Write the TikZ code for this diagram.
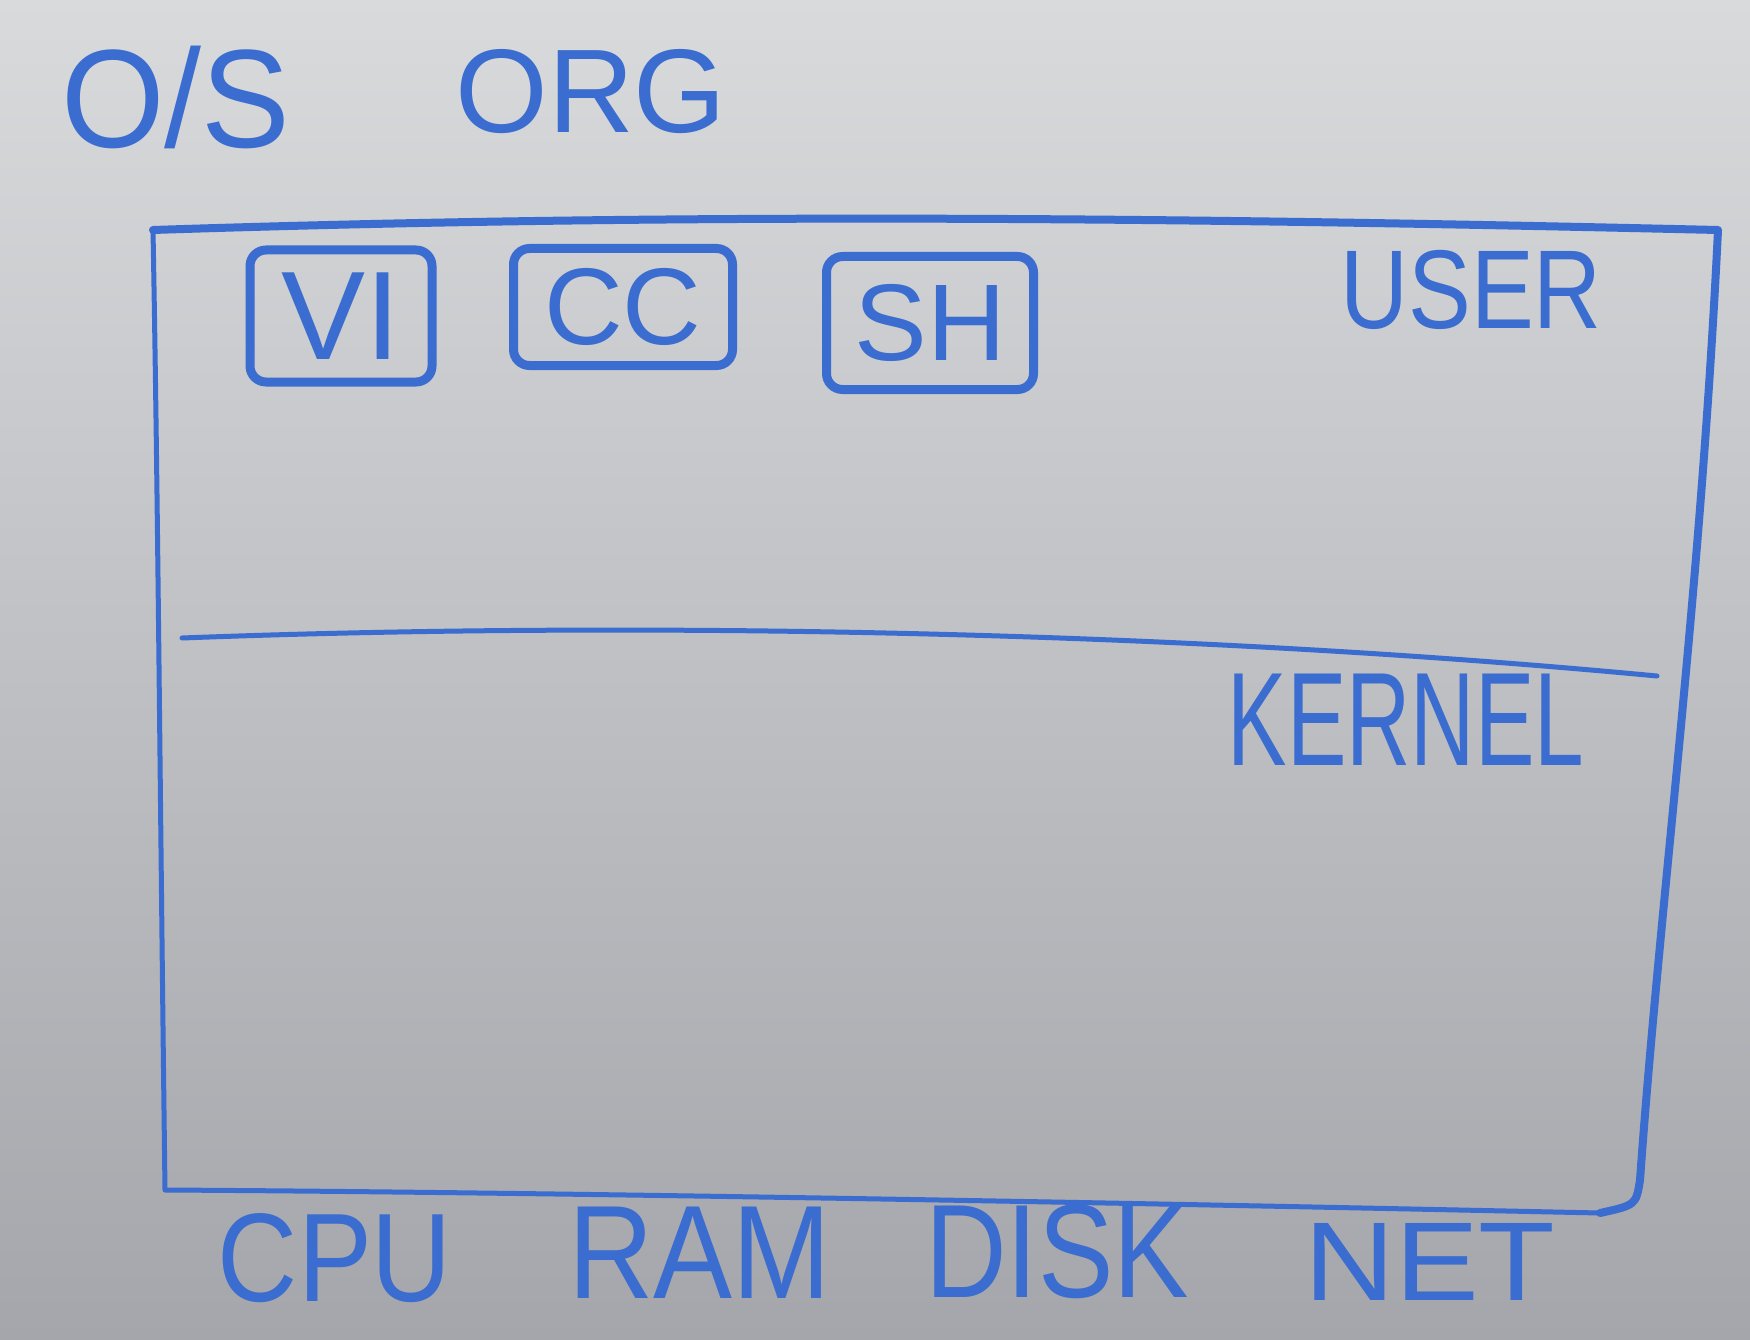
\documentclass[tikz,border=0pt]{standalone}
\usepackage{fontspec}
\setmainfont{Liberation Sans}
\usepackage{tikz}

\definecolor{marker}{HTML}{3B6CCF}
\definecolor{boardtop}{HTML}{D8DADC}
\definecolor{boardbot}{HTML}{A4A6AB}
\newcommand{\inksize}[1]{\fontsize{#1}{#1}\selectfont}

\begin{document}
\begin{tikzpicture}[
    x=1pt, y=-1pt,
    ink/.style={draw=marker, line width=#1, line cap=round, line join=round},
    ink/.default=6pt,
    word/.style={text=marker, inner sep=0pt, transform shape},
    app/.style={draw=marker, line width=9pt, rounded corners=16pt, text=marker, inner sep=0pt}
]
\useasboundingbox (0,0) rectangle (1750,1340);
\fill[top color=boardtop, bottom color=boardbot] (0,0) rectangle (1750,1340);

% title
\node[word, xscale=0.95, font=\inksize{140}] (os) at (176,97) {O/S};
\node[word, font=\inksize{119}] (org) at (591,92) {ORG};

% frame and split between the two layers
\coordinate (tl) at (153,230);
\coordinate (tr) at (1718,230);
\coordinate (br) at (1600,1213);
\coordinate (bl) at (165,1190);
\draw[ink=8pt] (tl) .. controls (700,212) and (1200,218) .. (tr)
    .. controls (1700,600) and (1660,900) .. (1640,1180)
    .. controls (1636,1205) .. (br);
\draw[ink=5pt] (br) .. controls (1000,1200) and (500,1192) .. (bl)
    .. controls (160,800) and (158,500) .. (tl);
\coordinate (splitl) at (182,638);
\coordinate (splitr) at (1657,676);
\draw[ink=5pt] (splitl) .. controls (600,622) and (1150,628) .. (splitr);

% user programs
\node[app, minimum width=182pt, minimum height=132pt, font=\inksize{126}] (vi) at (341,316) {VI};
\node[app, minimum width=219pt, minimum height=117pt, font=\inksize{109}] (cc) at (623,307) {CC};
\node[app, minimum width=207pt, minimum height=133pt, font=\inksize{109}] (sh) at (930,323) {SH};

\node[word, xscale=0.84, font=\inksize{112}] (user) at (1471,290) {USER};
\node[word, xscale=0.67, font=\inksize{133}] (kernel) at (1406,720) {KERNEL};

% hardware
\node[word, xscale=0.88, font=\inksize{126}] (cpu) at (335,1258) {CPU};
\node[word, xscale=0.89, font=\inksize{133}] (ram) at (700,1253) {RAM};
\node[word, xscale=0.85, font=\inksize{133}] (disk) at (1057,1252) {DISK};
\node[word, xscale=1.12, font=\inksize{112}] (net) at (1430,1262) {NET};
\end{tikzpicture}
\end{document}
